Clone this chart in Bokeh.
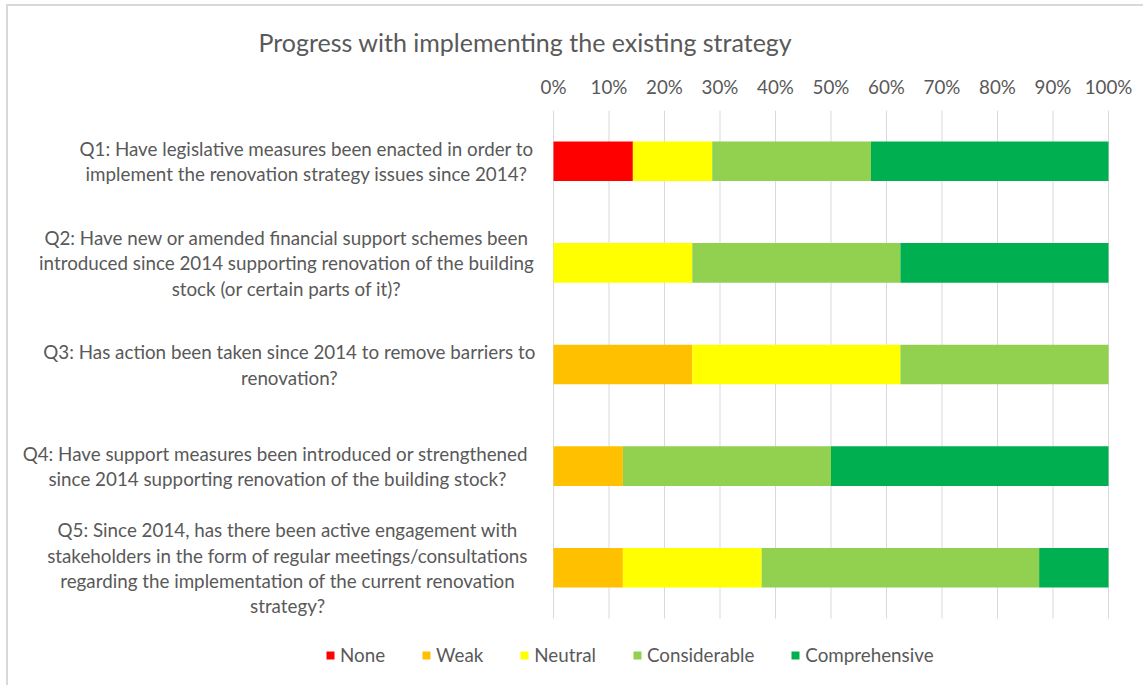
from bokeh.plotting import figure
from bokeh.models import (ColumnDataSource, FixedTicker, PrintfTickFormatter,
                          Legend, LegendItem, Range1d)
from bokeh.core.properties import value
from bokeh.embed import file_html
from bokeh.resources import INLINE

# ---------------- data ----------------
questions = ["Q1", "Q2", "Q3", "Q4", "Q5"]
question_labels = [
    "Q1: Have legislative measures been enacted in order to\nimplement the renovation strategy issues since 2014?",
    "Q2: Have new or amended financial support schemes been\nintroduced since 2014 supporting renovation of the building\nstock (or certain parts of it)?",
    "Q3: Has action been taken since 2014 to remove barriers to\nrenovation?",
    "Q4: Have support measures  been introduced or strengthened\nsince 2014 supporting renovation of the building stock?",
    "Q5: Since 2014, has there been active engagement with\nstakeholders in the form of regular meetings/consultations\nregarding the implementation of the current renovation\nstrategy?",
]
series = ["None", "Weak", "Neutral", "Considerable", "Comprehensive"]
none = [14.3, 0.0, 0.0, 0.0, 0.0]
weak = [0.0, 0.0, 25.0, 12.5, 12.5]
neutral = [14.3, 25.0, 37.5, 0.0, 25.0]
considerable = [28.6, 37.5, 37.5, 37.5, 50.0]
comprehensive = [42.8, 37.5, 0.0, 50.0, 12.5]
tick_values = [0, 10, 20, 30, 40, 50, 60, 70, 80, 90, 100]
colors = ["#FF0000", "#FFC000", "#FFFF00", "#92D050", "#00B050"]

# ---------------- layout constants ----------------
W, H = 1137, 681
PLOT_LEFT_PX, PLOT_RIGHT_PX = 545, 1100      # pixel position of 0% and 100%
PLOT_TOP_PX, PLOT_BOTTOM_PX = 104, 612       # gridline extent
px_per_unit = (PLOT_RIGHT_PX - PLOT_LEFT_PX) / 100.0
x_start = -PLOT_LEFT_PX / px_per_unit
x_end = 100 + (W - PLOT_RIGHT_PX) / px_per_unit
n = len(questions)
px_per_band = (PLOT_BOTTOM_PX - PLOT_TOP_PX) / n
y_start = -(H - PLOT_BOTTOM_PX) / px_per_band
label_centers = [-44.5, -48.1, -47.6, -49.7, -47.9]   # centre of each question text block (in % units)

FONT = "Lato"
TXT = "#595959"
FS = "18.8px"

y_pos = [n - i - 0.5 for i in range(n)]   # Q1 on top

source = ColumnDataSource(dict(
    y=y_pos, None_=none, Weak=weak, Neutral=neutral,
    Considerable=considerable, Comprehensive=comprehensive,
))
keys = ["None_", "Weak", "Neutral", "Considerable", "Comprehensive"]

p = figure(width=W, height=H, output_backend="svg", toolbar_location=None,
           x_range=Range1d(x_start, x_end),
           y_range=Range1d(y_start, n),
           x_axis_location="above", y_axis_location=None,
           min_border_left=0, min_border_right=0, min_border_top=PLOT_TOP_PX, min_border_bottom=0,
           title="Progress with implementing the existing strategy")
p.styles = {"margin-left": "6px", "margin-top": "4px",
            "border-top": "2px solid #d9d9d9", "border-left": "2px solid #d9d9d9"}
p.outline_line_color = None
p.background_fill_color = "white"
p.border_fill_color = "white"
p.xgrid.grid_line_color = None
p.ygrid.grid_line_color = None

# gridlines at the tick values, spanning the category bands only
grid_src = ColumnDataSource(dict(x=tick_values, y0=[0] * len(tick_values), y1=[n] * len(tick_values)))
p.segment(x0="x", y0="y0", x1="x", y1="y1", source=grid_src, line_color="#d9d9d9", line_width=1)

renderers = p.hbar_stack(keys, y="y", height=0.39, color=colors, line_color=None, source=source)

lab_src = ColumnDataSource(dict(x=label_centers, y=y_pos, t=question_labels))
p.text(x="x", y="y", text="t", source=lab_src, text_align="center", text_baseline="middle",
       text_font=value(FONT), text_font_size=FS, text_color=TXT, text_line_height=1.1)

ax = p.xaxis[0]
ax.ticker = FixedTicker(ticks=tick_values)
ax.formatter = PrintfTickFormatter(format="%d%%")
ax.axis_line_color = None
ax.major_tick_line_color = None
ax.minor_tick_line_color = None
ax.major_label_text_font = FONT
ax.major_label_text_font_size = FS
ax.major_label_text_color = TXT
ax.major_label_standoff = 7

p.title.align = "left"
p.title.offset = 250
p.title.text_font = FONT
p.title.text_font_size = "25px"
p.title.text_font_style = "normal"
p.title.text_color = TXT
p.title.standoff = 29

legend = Legend(items=[LegendItem(label=s, renderers=[r]) for s, r in zip(series, renderers)],
                orientation="horizontal", glyph_width=10, glyph_height=10, label_standoff=5,
                spacing=36, padding=0, margin=0, border_line_color=None, background_fill_alpha=0,
                label_text_font=FONT, label_text_font_size=FS, label_text_color=TXT,
                location=(317, 21))
p.add_layout(legend, "center")

open("out.html", "w").write(file_html(p, INLINE))
